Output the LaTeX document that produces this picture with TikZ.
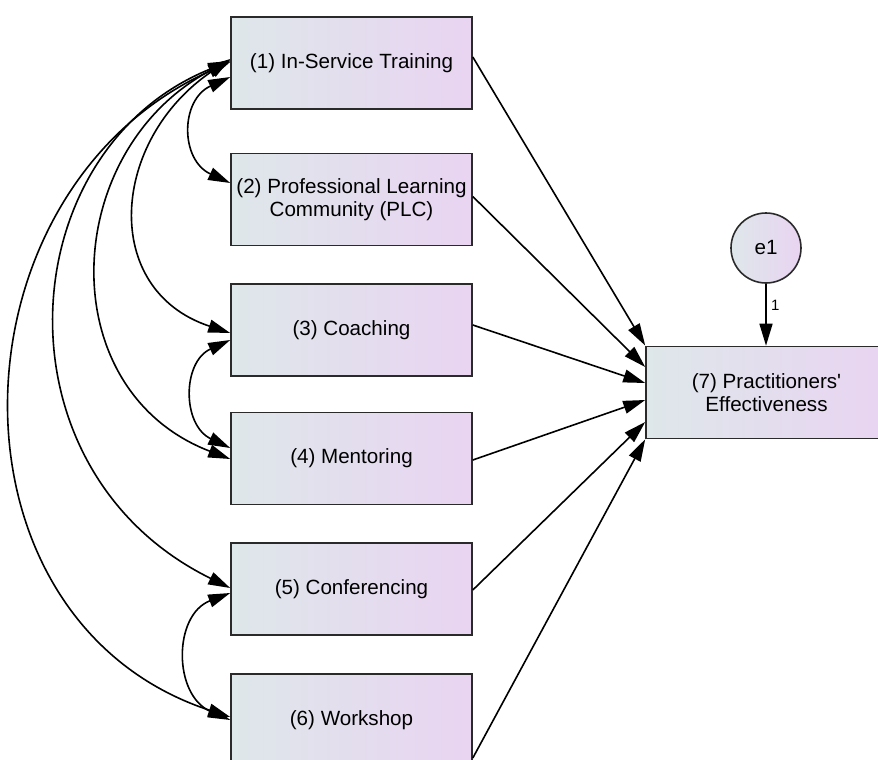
\documentclass[tikz,border=0pt]{standalone}
\usepackage{fontspec}
\setmainfont{Liberation Sans}
\usetikzlibrary{arrows.meta}
\definecolor{gl}{HTML}{DEE7EA}
\definecolor{gr}{HTML}{E9D4F2}
\definecolor{bd}{HTML}{2A2A2A}
\begin{document}
\begin{tikzpicture}[x=1pt,y=-1pt,
  box/.style={draw=bd, line width=1.6pt, left color=gl, right color=gr,
    minimum width=241pt, minimum height=92pt, inner sep=0pt, align=center,
    font=\fontsize{20.6}{23}\selectfont},
  lat/.style={circle, draw=bd, line width=1.6pt, left color=gl, right color=gr,
    minimum size=70pt, inner sep=0pt, font=\fontsize{20.6}{23}\selectfont},
  tip/.tip={Triangle[length=22pt,width=13pt]},
  pathar/.style={line width=1.6pt, -tip},
  cov/.style={line width=1.6pt, tip-tip}]
\useasboundingbox (0,0) rectangle (878,760);
\node[box] (b1) at (351.5,63) {(1) In-Service Training};
\node[box] (b2) at (351.5,199.5) {(2) Professional Learning\\Community (PLC)};
\node[box] (b3) at (351.5,330) {(3) Coaching};
\node[box] (b4) at (351.5,458.5) {(4) Mentoring};
\node[box] (b5) at (351.5,589) {(5) Conferencing};
\node[box] (b6) at (351.5,720) {(6) Workshop};
\node[box] (b7) at (766.5,392.5) {(7) Practitioners\textquotesingle\\Effectiveness};
\node[lat] (e1) at (766,248) {e1};
% regression paths
\draw[pathar] ([yshift=6pt]b1.east) -- ([yshift=47pt]b7.west);
\draw[pathar] ([yshift=3pt]b2.east) -- ([yshift=25.5pt]b7.west);
\draw[pathar] ([yshift=5pt]b3.east) -- ([yshift=9.5pt]b7.west);
\draw[pathar] ([yshift=-1.5pt]b4.east) -- ([yshift=-7.5pt]b7.west);
\draw[pathar] ([yshift=-1pt]b5.east) -- ([yshift=-29.5pt]b7.west);
\draw[pathar] ([yshift=-38pt]b6.east) -- (b7.south west);
\draw[pathar] (e1.south) -- (e1.south |- b7.north) node[pos=0.35, right=1pt, font=\fontsize{15}{17}\selectfont] (one) {1};
% covariances
\draw[cov] ([yshift=-14pt]b1.west) .. controls (180,100) and (180,160) .. ([yshift=16.5pt]b2.west);
\draw[cov] ([yshift=4pt]b1.west) .. controls (110,140) and (100,290) .. ([yshift=-3pt]b3.west);
\draw[cov] ([yshift=3pt]b1.west) .. controls (60,150) and (50,390) .. ([yshift=-0.5pt]b4.west);
\draw[cov] ([yshift=2pt]b1.west) .. controls (10,150) and (-10,470) .. ([yshift=1pt]b5.west);
\draw[cov] ([yshift=1pt]b1.west) .. controls (-55,190) and (-65,620) .. ([yshift=3pt]b6.west);
\draw[cov] ([yshift=-10pt]b3.west) .. controls (182,362) and (182,425) .. ([yshift=10.5pt]b4.west);
\draw[cov] ([yshift=-4pt]b5.west) .. controls (173,615) and (173,695) .. (b6.west);
\end{tikzpicture}
\end{document}
